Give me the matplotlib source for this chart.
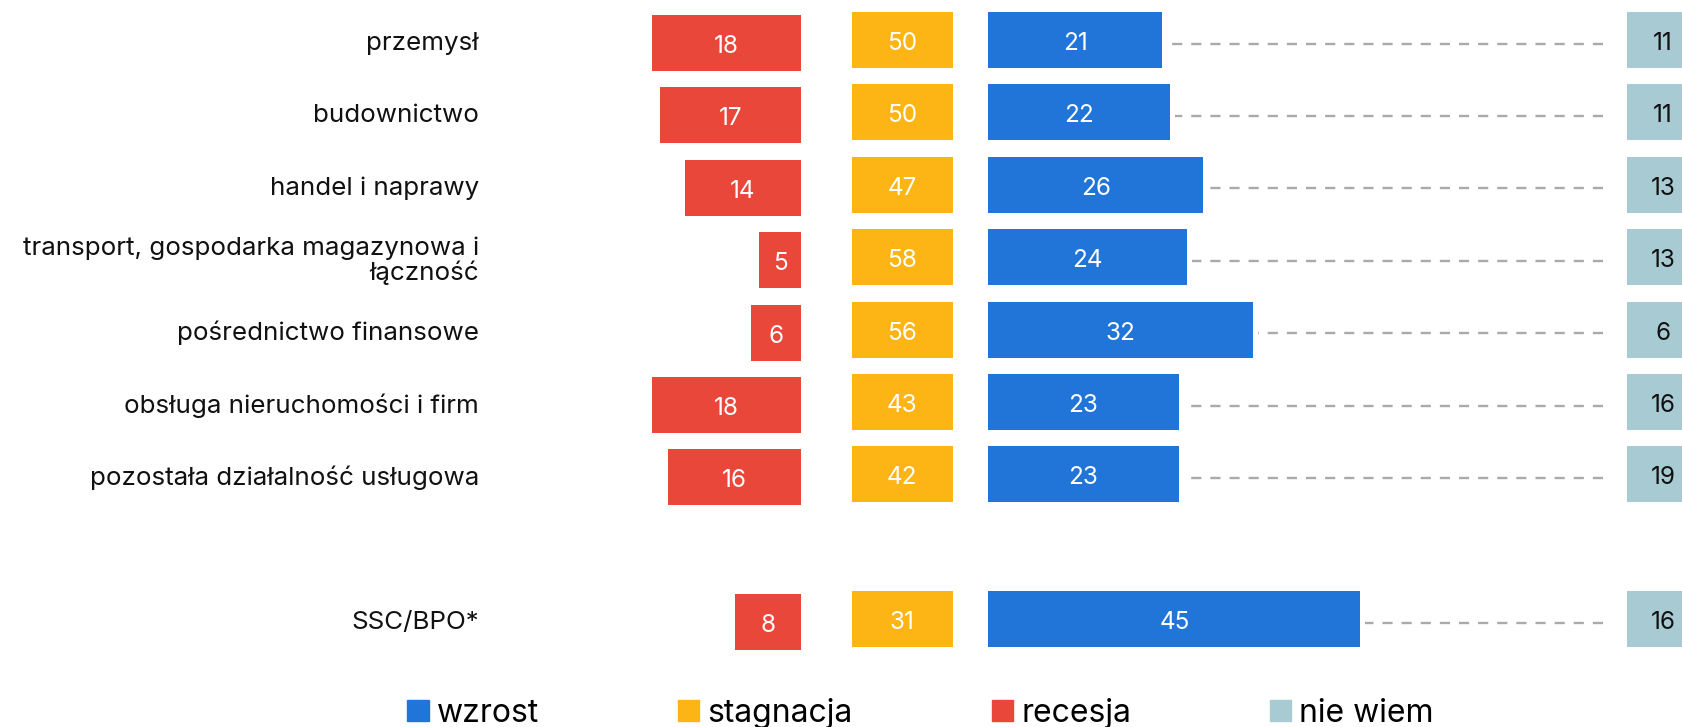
import matplotlib
matplotlib.use("Agg")
import matplotlib.pyplot as plt
from matplotlib.patches import Patch

categories = ["przemysł", "budownictwo", "handel i naprawy",
              "transport, gospodarka magazynowa i\nłączność",
              "pośrednictwo finansowe", "obsługa nieruchomości i firm",
              "pozostała działalność usługowa", "SSC/BPO*"]
rows = [0, 1, 2, 3, 4, 5, 6, 8]
wzrost = [21, 22, 26, 24, 32, 23, 23, 45]
stagnacja = [50, 50, 47, 58, 56, 43, 42, 31]
recesja = [18, 17, 14, 5, 6, 18, 16, 8]
nie_wiem = [11, 11, 13, 13, 6, 16, 19, 16]

c_blue = "#2275D8"
c_yellow = "#FDB515"
c_red = "#E8473A"
c_gray = "#A8CAD2"

W, H = 1683, 727
S = 8.27  # px per percentage point
PITCH = 72.4
TOP = 40

plt.rcParams["font.family"] = ["Inter", "DejaVu Sans"]

fig = plt.figure(figsize=(W / 100, H / 100), dpi=100)
ax = fig.add_axes([0, 0, 1, 1])
ax.set_xlim(0, W / S)
ax.set_ylim((H - TOP) / PITCH, -TOP / PITCH)
ax.axis("off")

red_end = 800.7 / S
yel_left, yel_w = 851.7 / S, 101 / S
blue_left = 988.3 / S
dash_end = 1603 / S
gray_left, gray_w = 1626.7 / S, 80 / S
gray_txt = 1663 / S
lab_x = 479 / S
bh = 56 / PITCH
red_off = 3 / PITCH
txt_off = 3.5 / PITCH

red_y = [r + red_off for r in rows]
ax.barh(red_y, recesja, left=[red_end - v for v in recesja], height=bh, color=c_red)
ax.barh(rows, [yel_w] * len(rows), left=yel_left, height=bh, color=c_yellow)
ax.barh(rows, wzrost, left=blue_left, height=bh, color=c_blue)
ax.barh(rows, [gray_w] * len(rows), left=gray_left, height=bh, color=c_gray)

for r, ry, cat, w, s, rc, n in zip(rows, red_y, categories, wzrost, stagnacja, recesja, nie_wiem):
    ty = r + txt_off
    ax.text(lab_x, ty, cat, ha="right", va="center", fontsize=18.7, color="#111111",
            linespacing=1.05)
    ax.text(red_end - rc / 2, ry + txt_off, str(rc), ha="center", va="center", fontsize=17.5, color="white")
    ax.text(yel_left + yel_w / 2, ty, str(s), ha="center", va="center", fontsize=17.5, color="white")
    ax.text(blue_left + w / 2, ty, str(w), ha="center", va="center", fontsize=17.5, color="white")
    ax.text(gray_txt, ty, str(n), ha="center", va="center", fontsize=17.5, color="#111111")
    # dashes drawn from right to left so the pattern lines up at the right end
    ax.plot([dash_end, blue_left + w + 0.6], [ty, ty], color="#AAAAAA", lw=1.7,
            linestyle=(0, (4.3, 3.8)), solid_capstyle="butt", dash_capstyle="butt")

handles = [Patch(color=c_blue, label="wzrost"),
           Patch(color=c_yellow, label="stagnacja"),
           Patch(color=c_red, label="recesja"),
           Patch(color=c_gray, label="nie wiem")]
fig.legend(handles=handles, loc="center", bbox_to_anchor=(0.547, 0.019), ncol=4,
           frameon=False, prop={"size": 23},
           handlelength=0.66, handleheight=0.66, handletextpad=0.26, columnspacing=4.35,
           borderpad=0)

fig.savefig("out.png", dpi=100)
